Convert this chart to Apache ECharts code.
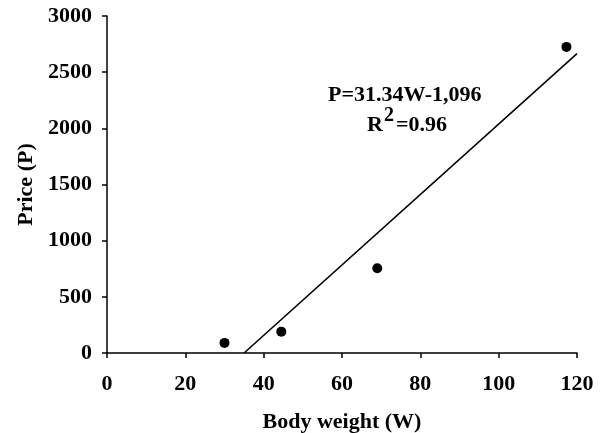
<!DOCTYPE html>
<html>
<head>
<meta charset="utf-8">
<script src="https://cdn.jsdelivr.net/npm/echarts@6/dist/echarts.min.js"></script>
<style>
  html, body { margin: 0; padding: 0; background: #fff; }
  #chart { width: 603px; height: 433px; }
</style>
</head>
<body>
<div id="chart"></div>
<script>
// body weight (W) vs price (P)
var weights = [30, 44.5, 69, 117.3];
var prices = [90, 190, 755, 2725];
// fitted line P = 31.34W - 1096, end points
var fitW = [35, 120];
var fitP = [0, 2665];
var xTicks = [0, 20, 40, 60, 80, 100, 120];
var yTicks = [0, 500, 1000, 1500, 2000, 2500, 3000];

var font = '"Liberation Serif", "Times New Roman", serif';

var chart = echarts.init(document.getElementById('chart'));

var points = weights.map(function(w, i) { return [w, prices[i]]; });
var fit = fitW.map(function(w, i) { return [w, fitP[i]]; });

var option = {
    backgroundColor: '#fff',
    animation: false,
    grid: {
        left: 107,
        right: 26,
        top: 16,
        bottom: 80,
        containLabel: false,
        outerBoundsMode: 'none'
    },
    xAxis: {
        type: 'value',
        min: xTicks[0],
        max: xTicks[xTicks.length - 1],
        interval: 20,
        name: 'Body weight (W)',
        nameLocation: 'middle',
        nameGap: 58,
        nameTextStyle: { color: '#000', fontFamily: font, fontWeight: 'bold', fontSize: 22 },
        axisLine: { lineStyle: { color: '#000', width: 1.5 } },
        axisTick: { show: true, inside: false, length: 5, lineStyle: { color: '#000', width: 1.5 } },
        axisLabel: { color: '#000', fontFamily: font, fontWeight: 'bold', fontSize: 22, margin: 20 },
        splitLine: { show: false }
    },
    yAxis: {
        type: 'value',
        min: yTicks[0],
        max: yTicks[yTicks.length - 1],
        interval: 500,
        name: 'Price (P)',
        nameLocation: 'middle',
        nameGap: 67,
        nameTextStyle: { color: '#000', fontFamily: font, fontWeight: 'bold', fontSize: 22 },
        axisLine: { show: true, lineStyle: { color: '#000', width: 1.5 } },
        axisTick: { show: true, inside: false, length: 5, lineStyle: { color: '#000', width: 1.5 } },
        axisLabel: {
            color: '#000', fontFamily: font, fontWeight: 'bold', fontSize: 22, margin: 15,
            formatter: function(v) { return String(v); }
        },
        splitLine: { show: false }
    },
    series: [{
        name: 'fit',
        type: 'line',
        data: fit,
        symbol: 'none',
        lineStyle: { color: '#000', width: 1.6 },
        z: 2
    }, {
        name: 'price',
        type: 'scatter',
        data: points,
        symbol: 'circle',
        symbolSize: 10,
        itemStyle: { color: '#000', opacity: 1 },
        z: 3
    }],
    graphic: [{
        type: 'text',
        left: 328,
        top: 84,
        style: {
            text: 'P=31.34W-1,096',
            fill: '#000',
            font: 'bold 22px ' + font
        }
    }, {
        type: 'text',
        left: 367,
        top: 106,
        style: {
            text: '{a|R}{s|2}{a|=0.96}',
            rich: {
                a: { fill: '#000', fontFamily: font, fontWeight: 'bold', fontSize: 22, verticalAlign: 'bottom' },
                s: { fill: '#000', fontFamily: font, fontWeight: 'bold', fontSize: 20, padding: [0, 2, 10, 1] }
            }
        }
    }]
};

chart.setOption(option);
</script>
</body>
</html>
